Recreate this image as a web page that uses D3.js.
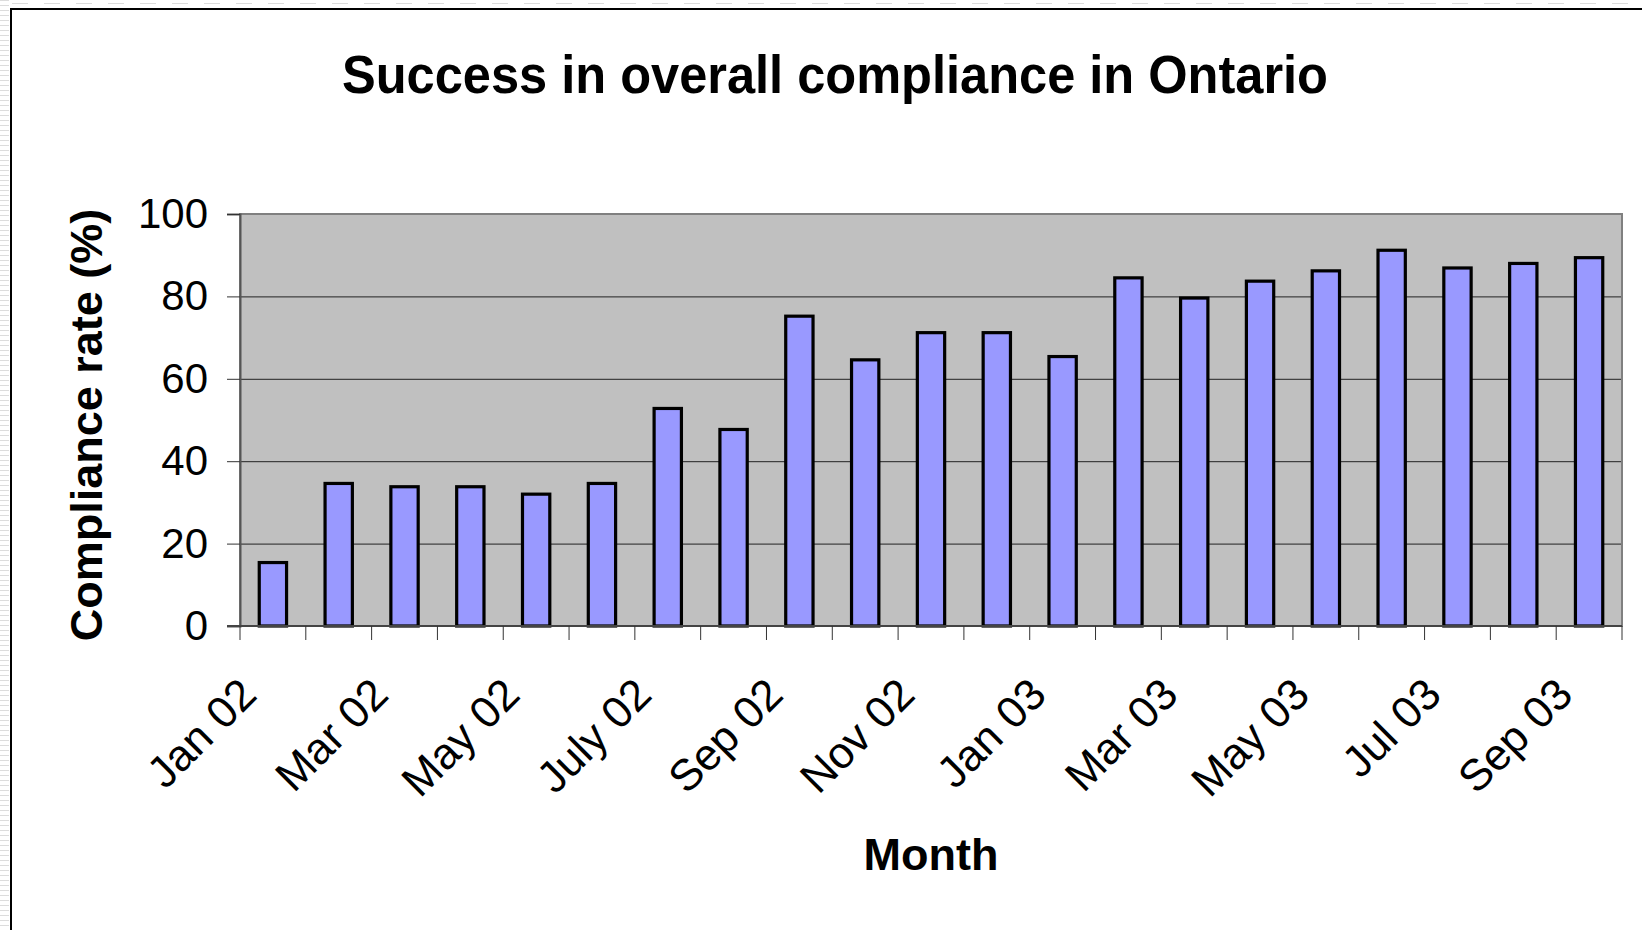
<!DOCTYPE html>
<meta charset="utf-8">
<script src="https://d3js.org/d3.v7.min.js"></script>
<style>
    body { margin: 0; background: #fff; }
    text { font-family: "Liberation Sans", Arial, sans-serif; fill: #000; }
</style>
<body>
<div id="my_dataviz"></div>
<script>

    // chart data
    var months = ["Jan 02", "Feb 02", "Mar 02", "Apr 02", "May 02", "Jun 02", "July 02", "Aug 02",
        "Sep 02", "Oct 02", "Nov 02", "Dec 02", "Jan 03", "Feb 03", "Mar 03", "Apr 03",
        "May 03", "Jun 03", "Jul 03", "Aug 03", "Sep 03"];
    var rates = [15.4, 34.6, 33.8, 33.8, 32.0, 34.6, 52.8, 47.7, 75.2, 64.6, 71.2, 71.2,
        65.4, 84.5, 79.6, 83.7, 86.2, 91.2, 86.9, 88.0, 89.4];
    var yTicks = [0, 20, 40, 60, 80, 100];
    // only every other month gets a label
    var shownMonths = months.filter(function (d, i) { return i % 2 === 0; });

    var W = 1642, H = 930;
    var margin = { top: 214, right: 20, bottom: 304, left: 240 },
        width = W - margin.left - margin.right,
        height = H - margin.top - margin.bottom;

    var svg = d3.select("#my_dataviz").append("svg")
        .attr("width", W)
        .attr("height", H);

    // page strip and chart frame
    var strip = svg.append("g");
    strip.selectAll("line.h")
        .data(d3.range(0, H, 5))
        .enter().append("line")
        .attr("x1", 0).attr("x2", 9)
        .attr("y1", function (d) { return d + 0.5; })
        .attr("y2", function (d) { return d + 0.5; })
        .style("stroke", "#dcdcdc");
    strip.append("line")
        .attr("x1", 12).attr("x2", W).attr("y1", 3.5).attr("y2", 3.5)
        .style("stroke", "#dcdcdc").style("stroke-dasharray", "16,16");
    svg.append("rect")
        .attr("x", 11).attr("y", 9)
        .attr("width", W + 20).attr("height", H + 20)
        .style("fill", "none").style("stroke", "#000").style("stroke-width", 2);

    var g = svg.append("g")
        .attr("transform", "translate(" + margin.left + "," + margin.top + ")");

    var x = d3.scaleBand()
        .domain(months)
        .range([0, width])
        .paddingInner(0.585)
        .paddingOuter(0.2925);

    var y = d3.scaleLinear()
        .domain([0, 100])
        .range([height, 0]);

    // plot area
    g.append("rect")
        .attr("width", width).attr("height", height)
        .style("fill", "#c0c0c0");

    // gridlines
    g.append("g")
        .call(d3.axisLeft(y).tickValues(yTicks.slice(1, -1)).tickSize(-width).tickFormat(""))
        .call(function (a) { a.select(".domain").remove(); })
        .selectAll("line").style("stroke", "#222").style("stroke-width", 1);

    // plot border
    g.append("rect")
        .attr("width", width).attr("height", height)
        .style("fill", "none").style("stroke", "#808080").style("stroke-width", 2);

    // bars
    g.append("g")
        .selectAll("rect")
        .data(rates)
        .enter().append("rect")
        .attr("x", function (d, i) { return x(months[i]); })
        .attr("y", function (d) { return y(d); })
        .attr("width", x.bandwidth())
        .attr("height", function (d) { return height - y(d); })
        .style("fill", "#9999ff")
        .style("stroke", "#000")
        .style("stroke-width", 3.2);

    // y axis
    var yAxis = g.append("g")
        .call(d3.axisLeft(y).tickValues(yTicks).tickSize(13).tickPadding(19));
    yAxis.select(".domain").style("stroke", "#555").style("stroke-width", 2);
    yAxis.selectAll("line").style("stroke", "#333");
    yAxis.selectAll("text")
        .style("font-size", "42px")
        .attr("font-family", null);

    // x axis line and ticks at band edges
    var step = x.step();
    var edges = months.map(function (d) { return x(d) - (step - x.bandwidth()) / 2; }).concat([width]);
    g.append("line")
        .attr("x1", -13).attr("x2", width)
        .attr("y1", height).attr("y2", height)
        .style("stroke", "#444").style("stroke-width", 2);
    g.append("g")
        .selectAll("line")
        .data(edges)
        .enter().append("line")
        .attr("x1", function (d) { return d; })
        .attr("x2", function (d) { return d; })
        .attr("y1", height).attr("y2", height + 14)
        .style("stroke", "#333");

    // month labels
    g.append("g")
        .selectAll("text")
        .data(shownMonths)
        .enter().append("text")
        .attr("transform", function (d) {
            return "translate(" + (x(d) + x.bandwidth() / 2 - 14) + "," + (height + 71) + ") rotate(-45)";
        })
        .attr("text-anchor", "end")
        .style("font-size", "44px")
        .text(function (d) { return d; });

    // titles
    svg.append("text")
        .attr("x", 835).attr("y", 93)
        .attr("text-anchor", "middle")
        .attr("textLength", 986)
        .attr("lengthAdjust", "spacingAndGlyphs")
        .style("font-size", "54px").style("font-weight", "bold")
        .text("Success in overall compliance in Ontario");

    svg.append("text")
        .attr("x", margin.left + width / 2).attr("y", 870)
        .attr("text-anchor", "middle")
        .style("font-size", "45px").style("font-weight", "bold")
        .text("Month");

    svg.append("text")
        .attr("transform", "translate(102,425) rotate(-90)")
        .attr("text-anchor", "middle")
        .style("font-size", "45px").style("font-weight", "bold")
        .text("Compliance rate (%)");

</script>
</body>
